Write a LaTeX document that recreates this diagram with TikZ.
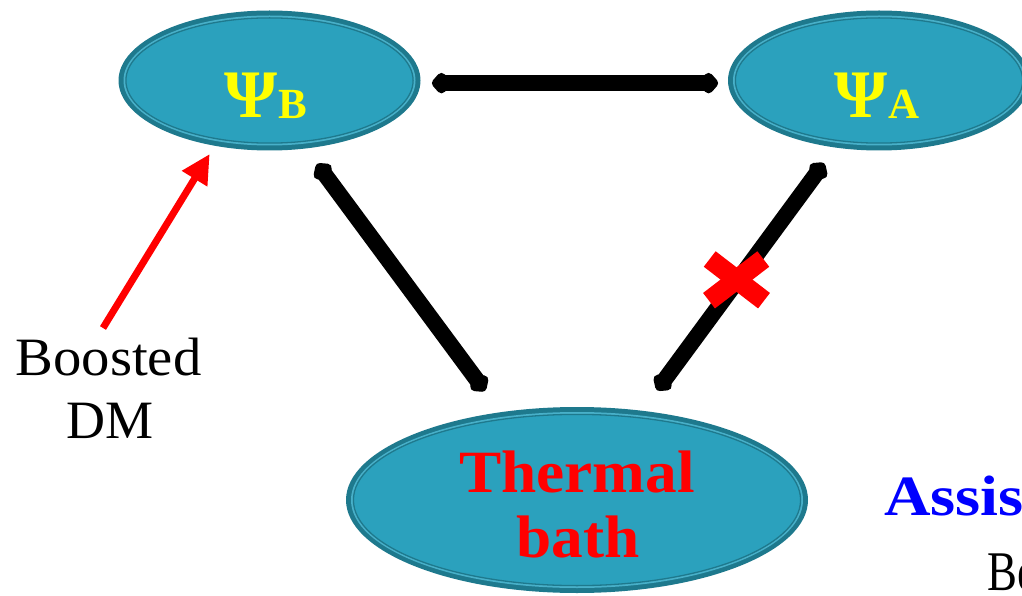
\documentclass[tikz,border=0pt]{standalone}
\usepackage{fontspec}
\setmainfont{Liberation Serif}
\usetikzlibrary{arrows.meta,shapes.geometric}
\definecolor{bubblefill}{RGB}{43,161,189}
\definecolor{ringdark}{RGB}{30,121,141}
\definecolor{ringlight}{RGB}{72,176,201}
\definecolor{psiyellow}{RGB}{255,255,0}
\newcommand\Bubble[9]{% name, x, y, rx, ry, rx-5, ry-5, rx-7.4, ry-7.4
  \fill[ringdark] (#2,#3) ellipse [x radius=#4pt, y radius=#5pt];
  \fill[ringlight] (#2,#3) ellipse [x radius=#6pt, y radius=#7pt];
  \filldraw[fill=bubblefill, draw=ringdark, line width=1.3pt] (#2,#3) ellipse [x radius=#8pt, y radius=#9pt];
  \node[bubblenode, minimum width=2*#4pt, minimum height=2*#5pt] (#1) at (#2,#3) {};
}
\tikzset{
  bubblenode/.style={ellipse, inner sep=0pt, outer sep=0pt, draw=none, fill=none},
  bigarrow/.style={line width=16pt, {Turned Square[length=22pt,width=25pt,round]}-{Turned Square[length=22pt,width=25pt,round]}},
  redarrow/.style={line width=7pt, red, -{Triangle[length=29pt,width=28pt]}},
  crossbar/.style={line width=19.5pt, red, line cap=butt},
  txt/.style={inner sep=0pt, outer sep=0pt, anchor=base},
  psilabel/.style={inner sep=0pt, outer sep=0pt, anchor=base west, text=psiyellow, font=\bfseries},
}
\begin{document}
\begin{tikzpicture}[x=1pt,y=-1pt]
\useasboundingbox (0,0) rectangle (1022,596);
\clip (0,0) rectangle (1022,596);
% bubbles
\Bubble{B}{269.5}{80.5}{151}{70}{146}{65}{143.6}{62.6}
\Bubble{A}{879}{80.5}{151}{70}{146}{65}{143.6}{62.6}
\Bubble{T}{577}{500}{231}{93}{226}{88}{223.6}{85.6}
% labels
\node[psilabel] (lB) at (224,118) {\fontsize{68}{68}\selectfont Ψ\kern1pt\raisebox{-1pt}{\fontsize{43}{43}\selectfont B}};
\node[psilabel] (lA) at (834,118) {\fontsize{68}{68}\selectfont Ψ\kern1pt\raisebox{-1pt}{\fontsize{43}{43}\selectfont A}};
\node[txt, text=red, font=\bfseries\fontsize{60}{60}\selectfont] (t1) at (577,492) {\scalebox{1.055}[1]{Thermal}};
\node[txt, text=red, font=\bfseries\fontsize{60}{60}\selectfont] (t2) at (578,557) {\scalebox{1.055}[1]{bath}};
% connectors
\draw[bigarrow, shorten <=11.5pt, shorten >=10pt] (B.-1.5) -- (A.181.5);
\draw[bigarrow, shorten <=19.2pt, shorten >=26.5pt] (B.-62.7) -- (T.131.4);
\draw[bigarrow, shorten <=19.4pt, shorten >=25.5pt] (A.-123.6) -- (T.54.9);
% red cross
\draw[crossbar] (709.7,259) -- (764,300.7);
\draw[crossbar] (763.3,259) -- (709,300.7);
% boosted DM
\node[txt, font=\fontsize{54}{54}\selectfont] (bd1) at (108.5,375) {\scalebox{1.05}[1]{Boosted}};
\node[txt, font=\fontsize{54}{54}\selectfont] (bd2) at (110.5,438) {DM};
\coordinate (bdm) at (103,328);
\draw[redarrow, shorten >=9.7pt] (bdm) -- (B.-130.3);
% cut-off text at right edge, as in the reference
\node[inner sep=0pt, anchor=base west, text=blue, font=\bfseries\fontsize{57}{57}\selectfont] (as) at (884,515) {\scalebox{1.13}[1]{Assis}};
\node[inner sep=0pt, anchor=base west, font=\fontsize{56}{56}\selectfont] (be) at (987,590) {\scalebox{0.8}[1]{Be}};
\end{tikzpicture}
\end{document}
